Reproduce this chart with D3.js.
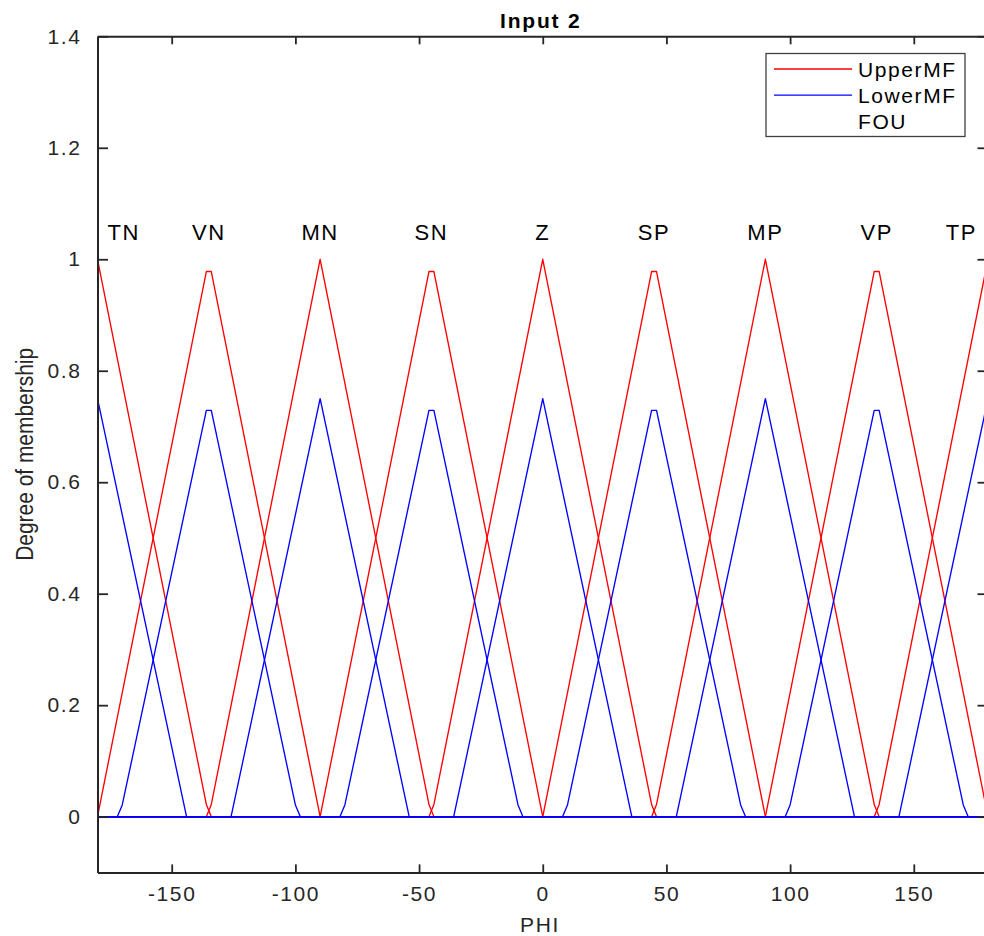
<!DOCTYPE html>
<html>
<head>
<meta charset="utf-8">
<script src="https://cdn.jsdelivr.net/npm/d3@7"></script>
<style>
  html, body { margin: 0; padding: 0; background: #fff; }
  svg { display: block; }
  text { font-family: "Liberation Sans", Arial, Helvetica, sans-serif; }
</style>
</head>
<body>
<svg id="chart" width="984" height="936"></svg>
<script>
// Membership function names and their centres on the PHI axis
const mfLabels  = ["TN", "VN", "MN", "SN", "Z", "SP", "MP", "VP", "TP"];
const mfCenters = [-180, -135, -90, -45, 0, 45, 90, 135, 180];

// Upper membership functions: polyline vertices [PHI, degree]
const upperTN = [[-180, 1], [-136, 0.022], [-134, 0], [180, 0]];
const upperVN = [[-180, 0], [-136, 0.978], [-134, 0.978], [-90, 0], [180, 0]];
const upperMN = [[-180, 0], [-136, 0], [-134, 0.022], [-90, 1], [-46, 0.022], [-44, 0], [180, 0]];
const upperSN = [[-180, 0], [-90, 0], [-46, 0.978], [-44, 0.978], [0, 0], [180, 0]];
const upperZ  = [[-180, 0], [-46, 0], [-44, 0.022], [0, 1], [44, 0.022], [46, 0], [180, 0]];
const upperSP = [[-180, 0], [0, 0], [44, 0.978], [46, 0.978], [90, 0], [180, 0]];
const upperMP = [[-180, 0], [44, 0], [46, 0.022], [90, 1], [134, 0.022], [136, 0], [180, 0]];
const upperVP = [[-180, 0], [90, 0], [134, 0.978], [136, 0.978], [180, 0]];
const upperTP = [[-180, 0], [134, 0], [136, 0.022], [180, 1]];

// Lower membership functions: polyline vertices [PHI, degree]
const lowerTN = [[-180, 0.75], [-144, 0], [180, 0]];
const lowerVN = [[-180, 0], [-172, 0], [-170, 0.021], [-136, 0.729], [-134, 0.729], [-100, 0.021], [-98, 0], [180, 0]];
const lowerMN = [[-180, 0], [-126, 0], [-90, 0.75], [-54, 0], [180, 0]];
const lowerSN = [[-180, 0], [-82, 0], [-80, 0.021], [-46, 0.729], [-44, 0.729], [-10, 0.021], [-8, 0], [180, 0]];
const lowerZ  = [[-180, 0], [-36, 0], [0, 0.75], [36, 0], [180, 0]];
const lowerSP = [[-180, 0], [8, 0], [10, 0.021], [44, 0.729], [46, 0.729], [80, 0.021], [82, 0], [180, 0]];
const lowerMP = [[-180, 0], [54, 0], [90, 0.75], [126, 0], [180, 0]];
const lowerVP = [[-180, 0], [98, 0], [100, 0.021], [134, 0.729], [136, 0.729], [170, 0.021], [172, 0], [180, 0]];
const lowerTP = [[-180, 0], [144, 0], [180, 0.75]];

const upperSeries = [upperTN, upperVN, upperMN, upperSN, upperZ, upperSP, upperMP, upperVP, upperTP];
const lowerSeries = [lowerTN, lowerVN, lowerMN, lowerSN, lowerZ, lowerSP, lowerMP, lowerVP, lowerTP];

// Axis ticks and legend entries
const xTicks = [-150, -100, -50, 0, 50, 100, 150];
const yTicks = [0, 0.2, 0.4, 0.6, 0.8, 1, 1.2, 1.4];
const legendItems = ["UpperMF", "LowerMF", "FOU"];
const legendColors = ["#ff0000", "#0000ff", null];

const plot = { left: 97.5, right: 988, top: 36.3, bottom: 872.4 };
const axisColor = "#262626";
const fontSize = 21;
const spacing = "1.6px";

const svg = d3.select("#chart");

const x = d3.scaleLinear().domain([-180, 180]).range([plot.left, plot.right]);
const y = d3.scaleLinear().domain([-0.1, 1.4]).range([plot.bottom, plot.top]);

const clipId = "plotClip";
svg.append("defs").append("clipPath").attr("id", clipId)
  .append("rect")
  .attr("x", plot.left).attr("y", plot.top)
  .attr("width", plot.right - plot.left).attr("height", plot.bottom - plot.top);

const line = d3.line().x(d => x(d[0])).y(d => y(d[1]));

const lines = svg.append("g").attr("clip-path", `url(#${clipId})`);
lines.selectAll("path.upper").data(upperSeries).join("path")
  .attr("class", "upper")
  .attr("d", line)
  .attr("fill", "none")
  .attr("stroke", "#ff0000")
  .attr("stroke-width", 1.35)
  .attr("stroke-linejoin", "round");
lines.selectAll("path.lower").data(lowerSeries).join("path")
  .attr("class", "lower")
  .attr("d", line)
  .attr("fill", "none")
  .attr("stroke", "#0000ff")
  .attr("stroke-width", 1.35)
  .attr("stroke-linejoin", "round");

// MF name labels, kept inside the plot area
const labelG = svg.append("g");
labelG.selectAll("text").data(mfLabels).join("text")
  .attr("x", (d, i) => x(mfCenters[i]))
  .attr("y", y(1.035))
  .attr("text-anchor", "middle")
  .attr("font-size", 22)
  .attr("letter-spacing", spacing)
  .attr("fill", "#000")
  .text(d => d)
  .each(function () {
    const bb = this.getBBox();
    const cx = +this.getAttribute("x");
    if (bb.x < plot.left + 10) this.setAttribute("x", cx + (plot.left + 10 - bb.x));
    else if (bb.x + bb.width > plot.right - 11) this.setAttribute("x", cx - (bb.x + bb.width - (plot.right - 11)));
  });

// Axes (box with inward ticks on all four sides)
const xAxisB = d3.axisBottom(x).tickValues(xTicks).tickSizeInner(-8).tickSizeOuter(0).tickPadding(14)
  .tickFormat(d => String(d));
const xAxisT = d3.axisTop(x).tickValues(xTicks).tickSizeInner(-8).tickSizeOuter(0).tickFormat("");
const yAxisL = d3.axisLeft(y).tickValues(yTicks).tickSizeInner(-10.5).tickSizeOuter(0).tickPadding(16)
  .tickFormat(d => d === 0 ? "0" : d === 1 ? "1" : d3.format(".1f")(d));
const yAxisR = d3.axisRight(y).tickValues(yTicks).tickSizeInner(-10.5).tickSizeOuter(0).tickFormat("");

function styleAxis(g) {
  g.select(".domain").attr("stroke", axisColor).attr("stroke-width", 2);
  g.selectAll(".tick line").attr("stroke", axisColor).attr("stroke-width", 1.8);
  g.selectAll(".tick text")
    .attr("fill", axisColor)
    .attr("font-size", fontSize)
    .attr("letter-spacing", spacing)
    .attr("font-family", "'Liberation Sans', Arial, Helvetica, sans-serif");
}

svg.append("g").attr("transform", `translate(0,${plot.bottom})`).call(xAxisB).call(styleAxis);
svg.append("g").attr("transform", `translate(0,${plot.top})`).call(xAxisT).call(styleAxis);
svg.append("g").attr("transform", `translate(${plot.left},0)`).call(yAxisL).call(styleAxis);
svg.append("g").attr("transform", `translate(${plot.right},0)`).call(yAxisR).call(styleAxis);

// Title and axis labels
svg.append("text")
  .attr("x", (plot.left + plot.right) / 2 - 2)
  .attr("y", 27.5)
  .attr("text-anchor", "middle")
  .attr("font-size", 21)
  .attr("font-weight", "bold")
  .attr("letter-spacing", "1.8px")
  .attr("fill", "#000")
  .text("Input 2");

svg.append("text")
  .attr("x", 540)
  .attr("y", 931.5)
  .attr("text-anchor", "middle")
  .attr("font-size", fontSize)
  .attr("letter-spacing", spacing)
  .attr("fill", axisColor)
  .text("PHI");

svg.append("text")
  .attr("transform", `translate(33,${(plot.top + plot.bottom) / 2}) rotate(-90)`)
  .attr("text-anchor", "middle")
  .attr("font-size", 23)
  .attr("textLength", 213)
  .attr("lengthAdjust", "spacingAndGlyphs")
  .attr("fill", axisColor)
  .text("Degree of membership");

// Legend
const legend = svg.append("g").attr("transform", "translate(766,53.5)");
legend.append("rect")
  .attr("width", 199).attr("height", 83)
  .attr("fill", "#fff")
  .attr("stroke", "#404040")
  .attr("stroke-width", 1.3);
const rows = legend.selectAll("g.row").data(legendItems).join("g")
  .attr("class", "row")
  .attr("transform", (d, i) => `translate(0,${15.5 + i * 26.2})`);
rows.filter((d, i) => legendColors[i] !== null).append("line")
  .attr("x1", 8).attr("x2", 86)
  .attr("stroke", (d, i) => legendColors[legendItems.indexOf(d)])
  .attr("stroke-width", 1.3);
rows.append("text")
  .attr("x", 92)
  .attr("y", 7.5)
  .attr("font-size", fontSize)
  .attr("letter-spacing", spacing)
  .attr("fill", "#000")
  .text(d => d);
</script>
</body>
</html>
